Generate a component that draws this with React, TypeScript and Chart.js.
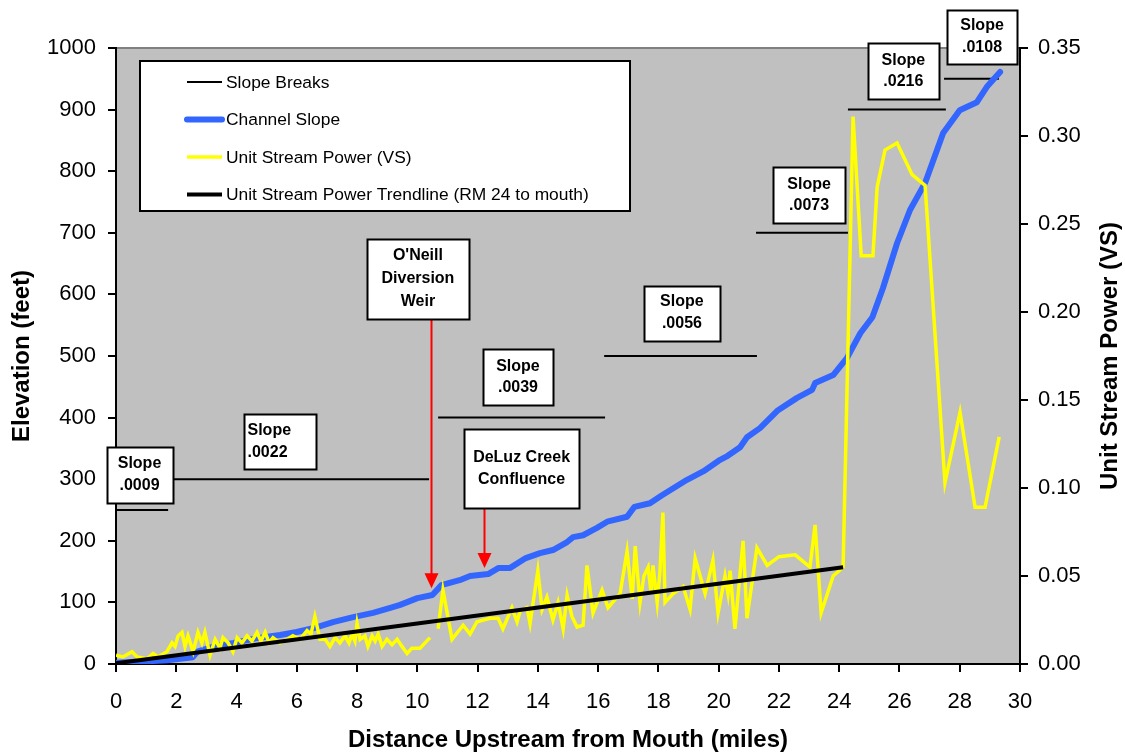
import { useEffect, useRef } from "react";
import { Chart, registerables } from "chart.js";

Chart.register(...registerables);

const FONT = '"Liberation Sans", Arial, Helvetica, sans-serif';

// ---- Channel profile (distance upstream in miles, elevation in feet)
const channelMiles = [
  0, 1.7, 2.55, 2.7, 3.2, 3.9, 4.68, 5.44, 6.0, 6.54, 7.2, 7.87, 8.53, 9.1, 9.43, 10.0, 10.5, 10.8,
  11.4, 11.75, 12.35, 12.7, 13.08, 13.6, 14.07, 14.5, 14.97, 15.17, 15.5, 15.96, 16.3, 16.96, 17.2,
  17.72, 18.12, 18.95, 19.5, 20.0, 20.3, 20.71, 20.94, 21.37, 21.97, 22.6, 23.1, 23.2, 23.8, 24.26,
  24.7, 25.1, 25.45, 25.92, 26.35, 26.85, 27.45, 28.0, 28.57, 28.9, 29.34,
];
const channelElevation = [
  2, 6, 11, 20, 28, 34, 42, 47, 52, 58, 68, 76, 83, 91, 96, 107, 112, 128,
  136, 143, 146, 156, 156, 172, 180, 185, 198, 206, 209, 221, 231, 239, 255,
  261, 274, 299, 313, 330, 338, 352, 368, 383, 412, 432, 445, 456, 469, 497,
  537, 563, 610, 683, 737, 781, 862, 899, 912, 937, 961,
];

// ---- Unit stream power (VS)
const powerMiles = [
  0.0, 0.23, 0.53, 0.7, 1.03, 1.23, 1.39, 1.69, 1.86, 1.96, 2.06, 2.19, 2.29, 2.39, 2.56, 2.72, 2.85,
  2.95, 3.12, 3.29, 3.45, 3.55, 3.72, 3.88, 4.02, 4.18, 4.35, 4.51, 4.68, 4.81, 4.95, 5.08, 5.21,
  5.44, 5.68, 5.87, 6.11, 6.34, 6.47, 6.6, 6.77, 6.94, 7.1, 7.27, 7.43, 7.6, 7.73, 7.83, 7.93, 8.0,
  8.1, 8.26, 8.36, 8.5, 8.6, 8.7, 8.83, 8.99, 9.16, 9.33, 9.49, 9.66, 9.82, 10.09, 10.42, 10.55,
  10.69, 10.85, 11.15, 11.52, 11.75, 11.98, 12.41, 12.68, 12.84, 13.14, 13.31, 13.41, 13.64, 13.74,
  14.0, 14.14, 14.3, 14.5, 14.67, 14.84, 14.97, 15.13, 15.3, 15.5, 15.63, 15.83, 16.13, 16.33, 16.53,
  16.73, 16.96, 17.13, 17.23, 17.39, 17.52, 17.66, 17.76, 17.82, 17.96, 18.05, 18.15, 18.22, 18.49,
  18.82, 19.05, 19.22, 19.55, 19.81, 19.98, 20.21, 20.31, 20.38, 20.54, 20.81, 20.94, 21.27, 21.61,
  22.0, 22.54, 23.03, 23.2, 23.4, 23.8, 24.13, 24.46, 24.73, 25.12, 25.26, 25.52, 25.92, 26.42,
  26.85, 27.51, 28.01, 28.51, 28.84, 29.31,
];
const powerValues: (number | null)[] = [
  0.005, 0.004, 0.007, 0.004, 0.003, 0.006, 0.004, 0.007, 0.012, 0.01, 0.016, 0.018, 0.01, 0.016, 0.007, 0.018, 0.012,
  0.018, 0.005, 0.014, 0.009, 0.015, 0.012, 0.007, 0.015, 0.012, 0.016, 0.013, 0.018, 0.013, 0.018, 0.012, 0.015,
  0.012, 0.014, 0.016, 0.014, 0.019, 0.017, 0.027, 0.014, 0.014, 0.01, 0.015, 0.012, 0.016, 0.012, 0.017, 0.013, 0.023,
  0.014, 0.016, 0.01, 0.016, 0.013, 0.017, 0.01, 0.014, 0.011, 0.014, 0.01, 0.006, 0.009, 0.009, 0.015, null,
  0.02, 0.042, 0.014, 0.022, 0.017, 0.024, 0.026, 0.026, 0.02, 0.032, 0.024, 0.03, 0.032, 0.023,
  0.053, 0.031, 0.038, 0.025, 0.035, 0.02, 0.039, 0.027, 0.021, 0.022, 0.056, 0.029, 0.042, 0.032, 0.036,
  0.04, 0.064, 0.037, 0.067, 0.035, 0.05, 0.055, 0.04, 0.056, 0.035, 0.052, 0.086, 0.035, 0.04,
  0.044, 0.031, 0.06, 0.04, 0.059, 0.029, 0.05, 0.04, 0.053, 0.02, 0.07, 0.026, 0.066, 0.056,
  0.061, 0.062, 0.055, 0.079, 0.029, 0.05, 0.055, 0.311, 0.232, 0.232, 0.271, 0.292, 0.296, 0.278,
  0.272, 0.103, 0.143, 0.089, 0.089, 0.129,
];

// ---- Trendline (RM 24 to mouth)
const trendMiles = [0, 24.13];
const trendValues = [0.0004, 0.055];

// ---- Slope breaks (segments)
const slopeBreakStart = [0, 1.89, 10.69, 16.2, 21.24, 24.29, 27.48];
const slopeBreakEnd = [1.73, 10.39, 16.23, 21.27, 24.29, 27.54, 29.3];
const slopeBreakElevation = [250, 300, 400, 500, 700, 900, 950];

// ---- Axis ticks
const xMin = 0, xMax = 30, xStep = 2;
const yMin = 0, yMax = 1000, yStep = 100;
const y2Min = 0, y2Max = 0.35, y2Step = 0.05;

// ---- Annotation labels (anchored in data units: miles, feet)
const labelText = [
  ["Slope", ".0009"],
  ["Slope", ".0022"],
  ["O'Neill", "Diversion", "Weir"],
  ["Slope", ".0039"],
  ["DeLuz Creek", "Confluence"],
  ["Slope", ".0056"],
  ["Slope", ".0073"],
  ["Slope", ".0216"],
  ["Slope", ".0108"],
];
const labelMiles = [0.78, 5.44, 10.02, 13.34, 13.46, 18.78, 23.0, 26.13, 28.74];
const labelFeet = [306.8, 361.2, 625, 466, 317.4, 569.8, 761.4, 962.7, 1017.9];

// box styling (pixels)
const labelBoxSize = [
  [66, 56], [72, 55], [102, 80], [70, 56], [115, 79], [76, 55], [72, 56], [71, 56], [70, 54],
];
const labelAlign = ["center", "left", "center", "center", "center", "center", "center", "center", "center"];
const labelLineGap = [22, 22, 23, 21, 22, 22, 21, 21, 22];

// arrows (from annotation box to feature)
const arrowBox = [2, 4];
const arrowMiles = [10.45, 12.21];
const arrowTipFeet = [123, 156];

const overlayPlugin = {
  id: "overlay",
  beforeDraw(chart: any) {
    const { ctx, chartArea: a } = chart;
    ctx.save();
    ctx.fillStyle = "#C0C0C0";
    ctx.fillRect(a.left, a.top, a.right - a.left, a.bottom - a.top);
    ctx.strokeStyle = "#808080";
    ctx.lineWidth = 2;
    ctx.beginPath();
    ctx.moveTo(a.left, a.top);
    ctx.lineTo(a.right, a.top);
    ctx.stroke();
    ctx.restore();
  },
  afterDraw(chart: any) {
    const { ctx, chartArea: a } = chart;
    const xs = chart.scales.x;
    const ys = chart.scales.y;
    ctx.save();

    // arrows
    arrowBox.forEach((bi, i) => {
      const x = Math.round(xs.getPixelForValue(arrowMiles[i])) + 0.5;
      const boxBottom = ys.getPixelForValue(labelFeet[bi]) + labelBoxSize[bi][1] / 2;
      const tip = ys.getPixelForValue(arrowTipFeet[i]);
      const headH = 15, headW = 7;
      ctx.strokeStyle = "#FF0000";
      ctx.fillStyle = "#FF0000";
      ctx.lineWidth = 2;
      ctx.beginPath();
      ctx.moveTo(x, boxBottom);
      ctx.lineTo(x, tip - headH + 1);
      ctx.stroke();
      ctx.beginPath();
      ctx.moveTo(x - headW, tip - headH);
      ctx.lineTo(x + headW, tip - headH);
      ctx.lineTo(x, tip);
      ctx.closePath();
      ctx.fill();
    });

    // annotation boxes
    ctx.font = `bold 16px ${FONT}`;
    ctx.textBaseline = "middle";
    labelText.forEach((lines, i) => {
      const cx = xs.getPixelForValue(labelMiles[i]);
      const cy = ys.getPixelForValue(labelFeet[i]);
      const [w, h] = labelBoxSize[i];
      const l = Math.round(cx - w / 2) + 0.5;
      const t = Math.round(cy - h / 2) + 0.5;
      ctx.fillStyle = "#FFFFFF";
      ctx.fillRect(l, t, w, h);
      ctx.strokeStyle = "#000";
      ctx.lineWidth = 2;
      ctx.strokeRect(l, t, w, h);
      ctx.fillStyle = "#000";
      const gap = labelLineGap[i];
      const startY = cy - ((lines.length - 1) * gap) / 2;
      lines.forEach((s, k) => {
        if (labelAlign[i] === "left") {
          ctx.textAlign = "left";
          ctx.fillText(s, l + 3, startY + k * gap);
        } else {
          ctx.textAlign = "center";
          ctx.fillText(s, cx, startY + k * gap);
        }
      });
    });

    // legend box
    const lgL = a.left + 24, lgT = a.top + 13, lgW = 490, lgH = 150;
    ctx.fillStyle = "#FFFFFF";
    ctx.fillRect(lgL, lgT, lgW, lgH);
    ctx.strokeStyle = "#000";
    ctx.lineWidth = 2;
    ctx.strokeRect(lgL, lgT, lgW, lgH);
    ctx.font = `17.4px ${FONT}`;
    ctx.textAlign = "left";
    ctx.textBaseline = "middle";
    chart.data.datasets.forEach((ds: any, i: number) => {
      const y = lgT + 21 + i * 37.5;
      ctx.strokeStyle = ds.borderColor;
      ctx.lineWidth = ds.borderWidth;
      ctx.lineCap = ds.borderWidth >= 5 ? "round" : "butt";
      ctx.beginPath();
      ctx.moveTo(lgL + 47, y);
      ctx.lineTo(lgL + 82, y);
      ctx.stroke();
      ctx.fillStyle = "#000";
      ctx.fillText(ds.label, lgL + 86, y + 1);
    });

    // right axis title (reads bottom to top)
    const y2 = chart.scales.y2;
    ctx.translate(y2.right - 15, (a.top + a.bottom) / 2);
    ctx.rotate(-Math.PI / 2);
    ctx.font = `bold 24px ${FONT}`;
    ctx.textAlign = "center";
    ctx.textBaseline = "middle";
    ctx.fillStyle = "#000";
    ctx.fillText("Unit Stream Power (VS)", 0, 0);
    ctx.restore();
  },
};

function buildSlopeBreaks() {
  const pts: { x: number; y: number | null }[] = [];
  slopeBreakStart.forEach((s, i) => {
    pts.push({ x: s, y: slopeBreakElevation[i] });
    pts.push({ x: slopeBreakEnd[i], y: slopeBreakElevation[i] });
    pts.push({ x: slopeBreakEnd[i], y: null });
  });
  return pts;
}

const axisGrid = {
  display: true,
  drawOnChartArea: false,
  drawTicks: true,
  tickLength: 8,
  color: "#000",
  lineWidth: 2,
};
const axisBorder = { display: true, color: "#000", width: 2 };

export default function App() {
  const ref = useRef<HTMLCanvasElement>(null);

  useEffect(() => {
    Chart.defaults.font.family = FONT;
    Chart.defaults.color = "#000";
    const chart = new Chart(ref.current as HTMLCanvasElement, {
      type: "line",
      data: {
        datasets: [
          {
            label: "Slope Breaks",
            data: buildSlopeBreaks() as any,
            borderColor: "#000000",
            borderWidth: 2,
            yAxisID: "y",
            order: 3,
            spanGaps: false,
          },
          {
            label: "Channel Slope",
            data: channelMiles.map((x, i) => ({ x, y: channelElevation[i] })),
            borderColor: "#3366FF",
            borderWidth: 6,
            borderJoinStyle: "round",
            borderCapStyle: "round",
            yAxisID: "y",
            order: 2,
          },
          {
            label: "Unit Stream Power (VS)",
            data: powerMiles.map((x, i) => ({ x, y: powerValues[i] })) as any,
            borderColor: "#FFFF00",
            borderWidth: 3.5,
            yAxisID: "y2",
            order: 1,
            spanGaps: false,
          },
          {
            label: "Unit Stream Power Trendline (RM 24 to mouth)",
            data: trendMiles.map((x, i) => ({ x, y: trendValues[i] })),
            borderColor: "#000000",
            borderWidth: 4,
            yAxisID: "y2",
            order: 0,
          },
        ],
      },
      options: {
        responsive: false,
        animation: false,
        devicePixelRatio: 1,
        layout: { padding: { top: 48, left: 0, right: 0, bottom: 0 } },
        elements: {
          point: { radius: 0, hoverRadius: 0 },
          line: { tension: 0, fill: false },
        },
        plugins: { legend: { display: false }, tooltip: { enabled: false } },
        scales: {
          x: {
            type: "linear",
            position: "bottom",
            min: xMin,
            max: xMax,
            ticks: {
              stepSize: xStep,
              color: "#000",
              font: { size: 22 },
              padding: 17,
              maxRotation: 0,
              autoSkip: false,
              callback: (v: any) => String(v),
            },
            grid: axisGrid,
            border: axisBorder,
            title: {
              display: true,
              text: "Distance Upstream from Mouth (miles)",
              color: "#000",
              font: { size: 24, weight: "bold" },
              padding: { top: 0, bottom: -2 },
            },
            afterFit(s: any) {
              s.height = 89;
            },
          },
          y: {
            type: "linear",
            position: "left",
            min: yMin,
            max: yMax,
            ticks: {
              stepSize: yStep,
              color: "#000",
              font: { size: 22 },
              padding: 12,
              callback: (v: any) => String(v),
            },
            grid: axisGrid,
            border: axisBorder,
            title: {
              display: true,
              text: "Elevation (feet)",
              color: "#000",
              font: { size: 24, weight: "bold" },
              padding: { top: 8, bottom: 0 },
            },
            afterFit(s: any) {
              s.width = 116;
            },
          },
          y2: {
            type: "linear",
            position: "right",
            min: y2Min,
            max: y2Max,
            ticks: {
              stepSize: y2Step,
              color: "#000",
              font: { size: 22 },
              padding: 10,
              callback: (v: any) => Number(v).toFixed(2),
            },
            grid: axisGrid,
            border: axisBorder,
            afterFit(s: any) {
              s.width = 105;
            },
          },
        },
      } as any,
      plugins: [overlayPlugin],
    });
    return () => chart.destroy();
  }, []);

  return (
    <div style={{ position: "fixed", left: 0, top: 0, width: 1125, height: 753, background: "#fff" }}>
      <canvas ref={ref} width={1125} height={753} style={{ display: "block" }} />
    </div>
  );
}
